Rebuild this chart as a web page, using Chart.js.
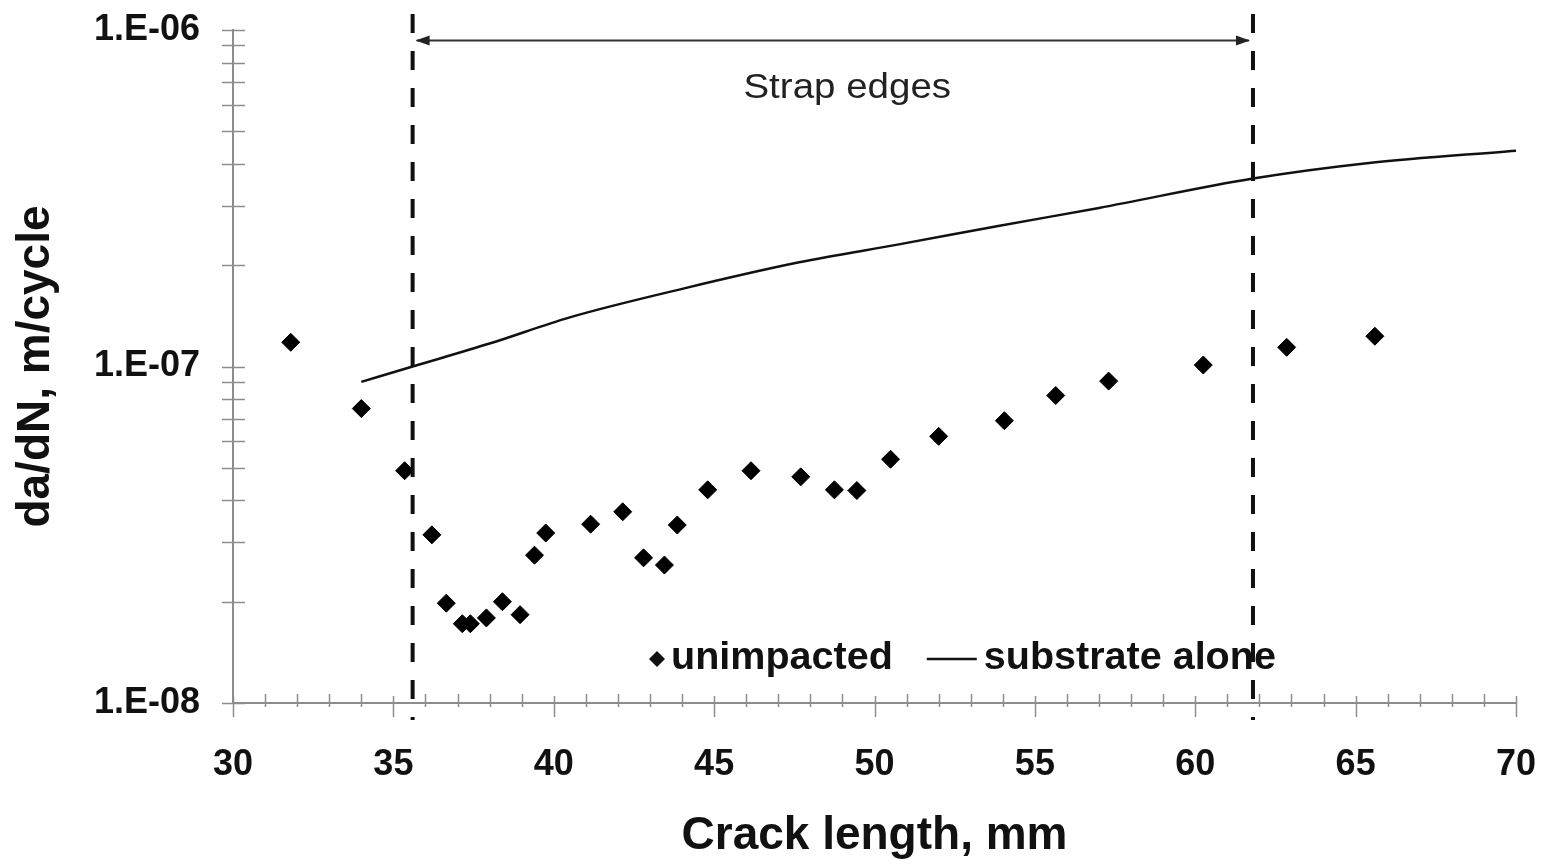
<!DOCTYPE html>
<html>
<head>
<meta charset="utf-8">
<script src="https://cdn.jsdelivr.net/npm/chart.js@4"></script>
<style>
    html, body { margin: 0; padding: 0; background: #fff; }
    #wrap { width: 1543px; height: 867px; }
</style>
</head>
<body>
<div id="wrap"><canvas id="crack-chart" width="1543" height="867"></canvas></div>
<script>
// Unimpacted specimen - measured growth rates
const crackLength = [31.8, 34.0, 35.35, 36.2, 36.65, 37.15, 37.4, 37.9, 38.4, 38.95,
    39.4, 39.75, 41.15, 42.15, 42.8, 43.45, 43.85, 44.8, 46.15, 47.7,
    48.75, 49.45, 50.5, 52.0, 54.05, 55.65, 57.3, 60.25, 62.85, 65.6];
const growthRate = [1.18e-7, 7.5e-8, 4.9e-8, 3.16e-8, 1.98e-8, 1.72e-8, 1.72e-8, 1.79e-8, 2.0e-8, 1.83e-8,
    2.75e-8, 3.2e-8, 3.4e-8, 3.7e-8, 2.7e-8, 2.57e-8, 3.38e-8, 4.3e-8, 4.9e-8, 4.7e-8,
    4.3e-8, 4.28e-8, 5.3e-8, 6.2e-8, 6.9e-8, 8.2e-8, 9.05e-8, 1.01e-7, 1.14e-7, 1.23e-7];

// Substrate alone curve
const substrateLength = [34.0, 35.6, 38.0, 40.5, 44.1, 47.65, 50.8, 53.9, 57.0, 61.8, 65.35, 70.0];
const substrateRate = [9.0e-8, 1.0e-7, 1.17e-7, 1.4e-7, 1.71e-7, 2.04e-7, 2.31e-7, 2.62e-7, 2.96e-7, 3.62e-7, 4.02e-7, 4.38e-7];

// Axis ticks
const xMajorTicks = [30, 35, 40, 45, 50, 55, 60, 65, 70];
const yMajorTicks = [1e-8, 1e-7, 1e-6];
const yMinorTicks = [2e-8, 3e-8, 4e-8, 5e-8, 6e-8, 7e-8, 8e-8, 9e-8,
    2e-7, 3e-7, 4e-7, 5e-7, 6e-7, 7e-7, 8e-7, 9e-7];

// Strap edge markers
const strapEdges = [35.6, 61.8];
const strapLabel = 'Strap edges';
const strapLabelPos = [49.15, 6.7e-7];
const strapArrowLevel = 9.3e-7;

const FONT = "'Liberation Sans', Arial, sans-serif";
const AXIS_COLOR = '#8c8c8c';

function formatExp(v) {
    const exp = Math.round(Math.log10(v));
    const digits = String(Math.abs(exp)).padStart(2, '0');
    return '1.E' + (exp < 0 ? '-' : '+') + digits;
}

// draw text stretched horizontally (source text is a little wide)
function wideText(ctx, text, x, y, align, stretch) {
    const w = ctx.measureText(text).width * stretch;
    const left = align === 'center' ? x - w / 2 : x;
    ctx.save();
    ctx.translate(left, y);
    ctx.scale(stretch, 1);
    ctx.textAlign = 'left';
    ctx.fillText(text, 0, 0);
    ctx.restore();
    return w;
}

// Tick marks crossing the axes
const axisTicksPlugin = {
    id: 'axisTicks',
    afterDraw(chart) {
        const { ctx, chartArea } = chart;
        const x = chart.scales.x;
        const y = chart.scales.y;
        ctx.save();
        ctx.strokeStyle = AXIS_COLOR;
        ctx.lineWidth = 1.5;

        // y ticks
        yMajorTicks.concat(yMinorTicks).forEach(v => {
            const py = Math.round(y.getPixelForValue(v)) + 0.5;
            ctx.beginPath();
            ctx.moveTo(chartArea.left - 11, py);
            ctx.lineTo(chartArea.left + 12, py);
            ctx.stroke();
        });

        // x ticks
        for (let v = x.min; v <= x.max; v++) {
            const px = Math.round(x.getPixelForValue(v)) + 0.5;
            const major = xMajorTicks.includes(v);
            ctx.beginPath();
            ctx.moveTo(px, chartArea.bottom - (major ? 7 : 9));
            ctx.lineTo(px, chartArea.bottom + (major ? 14 : 4));
            ctx.stroke();
        }
        ctx.restore();
    }
};

// Dashed strap edges, arrow and label
const strapPlugin = {
    id: 'strapEdges',
    afterDraw(chart) {
        const { ctx, chartArea } = chart;
        const x = chart.scales.x;
        const y = chart.scales.y;
        const x0 = x.getPixelForValue(strapEdges[0]);
        const x1 = x.getPixelForValue(strapEdges[1]);
        const ay = y.getPixelForValue(strapArrowLevel);

        ctx.save();
        // arrow
        ctx.strokeStyle = '#333';
        ctx.fillStyle = '#222';
        ctx.lineWidth = 2;
        ctx.beginPath();
        ctx.moveTo(x0 + 4, ay);
        ctx.lineTo(x1 - 4, ay);
        ctx.stroke();
        [[x0 + 3, 1], [x1 - 3, -1]].forEach(([tip, dir]) => {
            ctx.beginPath();
            ctx.moveTo(tip, ay);
            ctx.lineTo(tip + dir * 14, ay - 5);
            ctx.lineTo(tip + dir * 14, ay + 5);
            ctx.closePath();
            ctx.fill();
        });

        // label
        ctx.fillStyle = '#222';
        ctx.font = '35px ' + FONT;
        ctx.textBaseline = 'middle';
        wideText(ctx, strapLabel, x.getPixelForValue(strapLabelPos[0]), y.getPixelForValue(strapLabelPos[1]), 'center', 1.1);

        // dashed verticals
        ctx.strokeStyle = '#111';
        ctx.lineWidth = 4;
        ctx.setLineDash([19, 18]);
        strapEdges.forEach(v => {
            const px = x.getPixelForValue(v);
            ctx.beginPath();
            ctx.moveTo(px, chartArea.top - 16);
            ctx.lineTo(px, chartArea.bottom + 17);
            ctx.stroke();
        });
        ctx.restore();
    }
};

// Legend inside the plot, near the bottom
const legendPlugin = {
    id: 'innerLegend',
    afterDatasetsDraw(chart) {
        const { ctx, chartArea } = chart;
        const sets = chart.data.datasets;
        const ly = chartArea.bottom - 44;
        let lx = chartArea.left + 424;

        ctx.save();
        ctx.font = 'bold 38px ' + FONT;
        ctx.textBaseline = 'middle';
        ctx.fillStyle = '#111';

        // diamond marker
        ctx.beginPath();
        ctx.moveTo(lx - 8, ly);
        ctx.lineTo(lx, ly - 8);
        ctx.lineTo(lx + 8, ly);
        ctx.lineTo(lx, ly + 8);
        ctx.closePath();
        ctx.fill();
        lx += 14;
        lx += wideText(ctx, sets[0].label, lx, ly, 'left', 1.04) + 34;

        // line sample
        ctx.strokeStyle = '#111';
        ctx.lineWidth = 2.5;
        ctx.beginPath();
        ctx.moveTo(lx, ly);
        ctx.lineTo(lx + 50, ly);
        ctx.stroke();
        lx += 57;
        wideText(ctx, sets[1].label, lx, ly, 'left', 1.04);
        ctx.restore();
    }
};

const chart = new Chart(document.getElementById('crack-chart').getContext('2d'), {
    type: 'scatter',
    data: {
        datasets: [
            {
                label: 'unimpacted',
                data: crackLength.map((c, i) => ({ x: c, y: growthRate[i] })),
                pointStyle: 'rectRot',
                pointRadius: 9,
                pointBackgroundColor: '#000',
                pointBorderColor: '#000',
                pointBorderWidth: 1,
                showLine: false
            },
            {
                label: 'substrate alone',
                data: substrateLength.map((c, i) => ({ x: c, y: substrateRate[i] })),
                showLine: true,
                borderColor: '#111',
                borderWidth: 2.5,
                pointRadius: 0,
                tension: 0.3,
                cubicInterpolationMode: 'monotone'
            }
        ]
    },
    options: {
        responsive: false,
        animation: false,
        layout: { padding: { top: 30, right: 27, left: 0, bottom: 0 } },
        plugins: {
            legend: { display: false },
            tooltip: { enabled: false }
        },
        scales: {
            x: {
                type: 'linear',
                min: 30,
                max: 70,
                grid: { display: false, drawTicks: false },
                border: { display: true, color: AXIS_COLOR, width: 2 },
                ticks: {
                    stepSize: 5,
                    padding: 40,
                    maxRotation: 0,
                    color: '#111',
                    font: { family: FONT, size: 36, weight: 'bold' }
                },
                title: {
                    display: true,
                    text: 'Crack length, mm',
                    color: '#111',
                    font: { family: FONT, size: 46, weight: 'bold' },
                    padding: { top: 0, bottom: 3 }
                },
                afterFit: (scale) => {
                    scale.height = 164;
                    scale.paddingLeft = 0;
                    scale.paddingRight = 0;
                }
            },
            y: {
                type: 'logarithmic',
                min: 1e-8,
                max: 1e-6,
                grid: { display: false, drawTicks: false },
                border: { display: true, color: AXIS_COLOR, width: 2 },
                afterBuildTicks: (scale) => {
                    scale.ticks = yMajorTicks.map(v => ({ value: v, major: true }));
                },
                ticks: {
                    padding: 33,
                    color: '#111',
                    font: { family: FONT, size: 36, weight: 'bold' },
                    callback: (v) => formatExp(v)
                },
                title: {
                    display: true,
                    text: 'da/dN, m/cycle',
                    color: '#111',
                    font: { family: FONT, size: 46, weight: 'bold' },
                    padding: { top: 9, bottom: 0 }
                },
                afterFit: (scale) => {
                    scale.width = 233;
                    scale.paddingTop = 0;
                    scale.paddingBottom = 0;
                }
            }
        }
    },
    plugins: [legendPlugin, strapPlugin, axisTicksPlugin]
});
</script>
</body>
</html>
